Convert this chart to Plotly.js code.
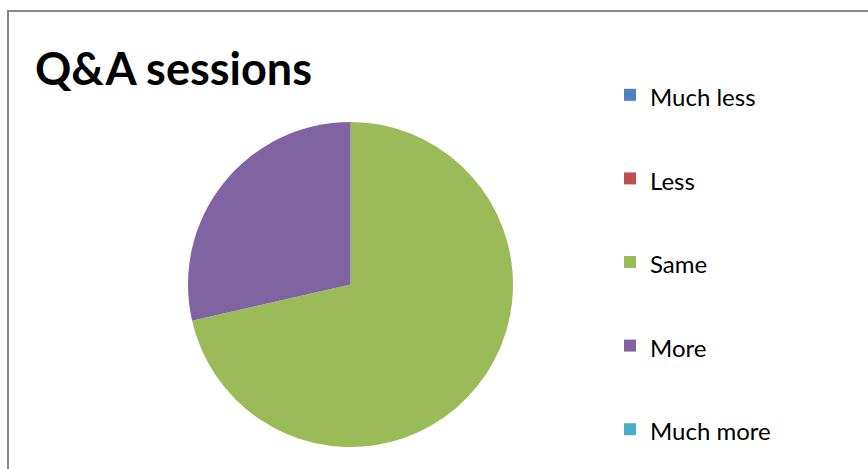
<!DOCTYPE html>
<html>
<head>
<meta charset="utf-8">
<script src="https://cdn.plot.ly/plotly-3.0.1.min.js"></script>
<style>
html,body{margin:0;padding:0;background:#fff;}
#wrap{position:relative;width:868px;height:469px;overflow:hidden;}
#chart{width:868px;height:469px;}
#frame{position:absolute;left:7px;top:10px;right:-5px;bottom:-5px;border-left:2px solid #878787;border-top:2px solid #878787;pointer-events:none;}
</style>
</head>
<body>
<div id="wrap"><div id="chart"></div><div id="frame"></div></div>
<script>
const categories = ["Much less", "Less", "Same", "More", "Much more"];
const values = [0, 0, 5, 2, 0];
const colors = ["#4F81BD", "#C0504D", "#9BBB59", "#8064A2", "#4BACC6"];
const titleText = "Q&A sessions";

const W = 868, H = 469;
const labelFont = 24;

const trace = {
  type: "pie",
  labels: categories.map(c => '<span style="font-size:' + labelFont + 'px;baseline-shift:13px">' + c + '</span>'),
  values: values,
  marker: {colors: colors, line: {width: 0}},
  sort: false,
  direction: "clockwise",
  rotation: 0,
  textinfo: "none",
  hoverinfo: "label+value",
  domain: {x: [188 / W, 513 / W], y: [1 - 447 / H, 1 - 122 / H]}
};

const layout = {
  width: W, height: H,
  margin: {l: 0, r: 0, t: 0, b: 0, autoexpand: false},
  paper_bgcolor: "#ffffff",
  plot_bgcolor: "#ffffff",
  showlegend: true,
  title: {
    text: "<b>" + titleText + "</b>",
    font: {family: "Lato, 'Open Sans', sans-serif", size: 45, color: "#000"},
    x: 35 / W, xanchor: "left", xref: "container",
    y: 1 - 69 / H, yanchor: "middle", yref: "container"
  },
  legend: {
    x: 610 / W, xanchor: "left",
    y: 1 - 48 / H, yanchor: "top",
    font: {family: "Lato, 'Open Sans', sans-serif", size: 62, color: "#000"},
    bgcolor: "rgba(0,0,0,0)",
    traceorder: "normal"
  }
};

Plotly.newPlot("chart", [trace], layout, {displayModeBar: false, staticPlot: true});
</script>
</body>
</html>
